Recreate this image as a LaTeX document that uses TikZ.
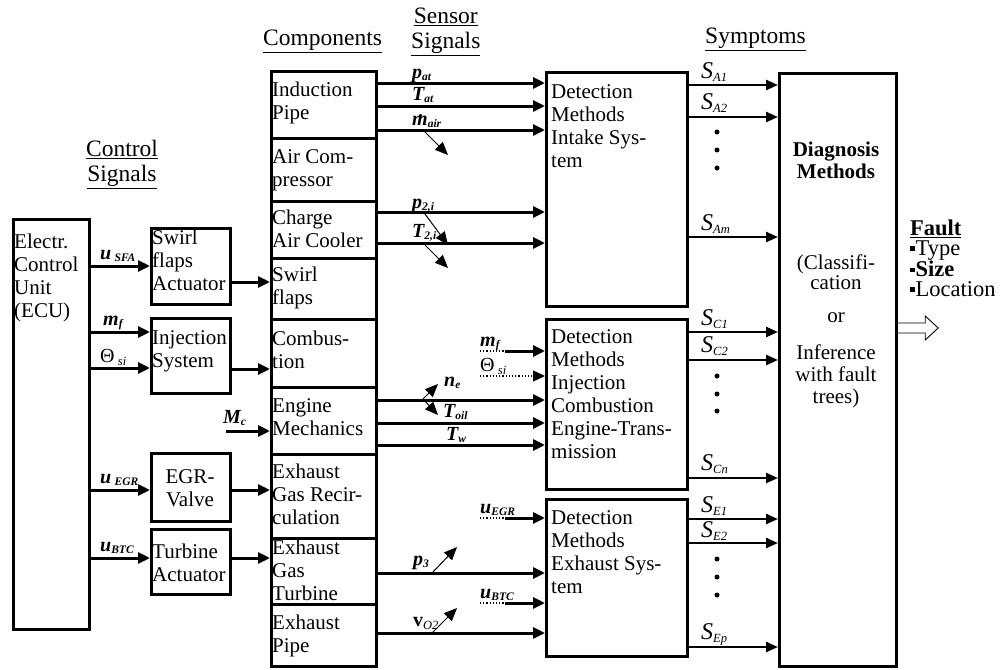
\documentclass[tikz,border=0pt]{standalone}
\usepackage{fontspec}
\setmainfont{Liberation Serif}
\usetikzlibrary{arrows.meta,calc}
\newcommand\bi[1]{{\bfseries\itshape #1}}
\newcommand\sbs[1]{\raisebox{-2pt}{\fontsize{11.5}{11.5}\selectfont\bfseries\itshape #1}}
\newcommand\sbn[1]{\raisebox{-3pt}{\fontsize{12.5}{12.5}\selectfont\itshape #1}}
\newcommand\blt{\raisebox{4.5pt}{\rule{4.5pt}{4.5pt}}\hspace{1pt}}
\newcommand\mdot{\rlap{\raisebox{8pt}{\hspace{6pt}\textbf{.}}}\bi{m}}
\begin{document}
\begin{tikzpicture}[x=1pt,y=-1pt,
  box/.style={draw,line width=3.2pt,inner sep=0pt,anchor=north west},
  txt/.style={font=\fontsize{21}{23}\selectfont,align=left,inner sep=0pt,anchor=north west},
  hdr/.style={font=\fontsize{23.5}{25}\selectfont,inner sep=0pt,align=center},
  lab/.style={font=\fontsize{20}{20}\selectfont,inner sep=0pt,anchor=base west},
  slab/.style={font=\fontsize{24}{24}\selectfont\itshape,inner sep=0pt,anchor=base west},
  arr/.style={line width=3pt,-{Triangle[length=12pt,width=11pt]}},
  sarr/.style={line width=2.4pt,-{Triangle[length=12pt,width=10pt]}},
  darr/.style={line width=1pt,-{Triangle[length=13pt,width=11pt]}},
  dots/.style={line width=1.2pt,dotted},
  pt/.style={fill,circle,inner sep=0pt,minimum size=5pt}
]
\useasboundingbox (0,0) rectangle (1003,669);

% headers
\node[hdr,anchor=north] (hcs) at (122,140) {\underline{Control}\\\underline{Signals}};
\node[hdr,anchor=north west] (hco) at (263,30) {\underline{Components}};
\node[hdr,anchor=north west] (hss) at (411,8) {\underline{Sensor}\\\underline{Signals}};
\node[hdr,anchor=north west] (hsy) at (705,28) {\underline{Symptoms}};

% ECU and actuators
\node[box,minimum width=76,minimum height=410] (ecu) at (12,218) {};
\node[txt] (tecu) at (14,234) {Electr.\\Control\\Unit\\(ECU)};
\node[box,minimum width=79,minimum height=76] (swa) at (150,227) {};
\node[txt] (tswa) at (152,230) {Swirl\\flaps\\Actuator};
\node[box,minimum width=79,minimum height=75] (inj) at (150,317) {};
\node[txt] (tinj) at (152,330) {Injection\\System};
\node[box,minimum width=79,minimum height=68] (egr) at (150,452) {};
\node[txt,align=center,anchor=north] (tegr) at (190,469) {EGR-\\Valve};
\node[box,minimum width=79,minimum height=65] (tur) at (150,528) {};
\node[txt] (ttur) at (152,544) {Turbine\\Actuator};

% components
\node[box,minimum width=105,minimum height=67] (c1) at (270,70) {};
\node[box,minimum width=105,minimum height=63] (c2) at (270,137) {};
\node[box,minimum width=105,minimum height=57] (c3) at (270,200) {};
\node[box,minimum width=105,minimum height=61] (c4) at (270,257) {};
\node[box,minimum width=105,minimum height=68] (c5) at (270,318) {};
\node[box,minimum width=105,minimum height=67] (c6) at (270,386) {};
\node[box,minimum width=105,minimum height=84] (c7) at (270,453) {};
\node[box,minimum width=105,minimum height=66] (c8) at (270,537) {};
\node[box,minimum width=105,minimum height=62] (c9) at (270,603) {};
\node[txt] (t1) at (272,82) {Induction\\Pipe};
\node[txt] (t2) at (272,149) {Air Com-\\pressor};
\node[txt] (t3) at (272,210) {Charge\\Air Cooler};
\node[txt] (t4) at (272,267) {Swirl\\flaps};
\node[txt] (t5) at (272,331) {Combus-\\tion};
\node[txt] (t6) at (272,398) {Engine\\Mechanics};
\node[txt] (t7) at (272,464) {Exhaust\\Gas Recir-\\culation};
\node[txt] (t8) at (272,540) {Exhaust\\Gas\\Turbine};
\node[txt] (t9) at (272,615) {Exhaust\\Pipe};

% detection boxes
\node[box,minimum width=141,minimum height=234] (di) at (545,71) {};
\node[txt] (tdi) at (551,84) {Detection\\Methods\\Intake Sys-\\tem};
\node[box,minimum width=141,minimum height=170] (dj) at (545,318) {};
\node[txt] (tdj) at (551,329) {Detection\\Methods\\Injection\\Combustion\\Engine-Trans-\\mission};
\node[box,minimum width=141,minimum height=157] (de) at (545,498) {};
\node[txt] (tde) at (551,510) {Detection\\Methods\\Exhaust Sys-\\tem};

% diagnosis
\node[box,minimum width=117,minimum height=593] (dg) at (778,72) {};
\node[txt,align=center,anchor=north,font=\fontsize{21}{22}\selectfont\bfseries] (tdg1) at (836,142) {Diagnosis\\Methods};
\node[txt,align=center,anchor=north,font=\fontsize{21}{20}\selectfont] (tdg2) at (836,255) {(Classifi-\\cation};
\node[txt,align=center,anchor=north] (tdg3) at (836,312) {or};
\node[txt,align=center,anchor=north,font=\fontsize{21}{22}\selectfont] (tdg4) at (836,345) {Inference\\with fault\\trees)};

% fault
\node[txt,font=\fontsize{22.5}{19.5}\selectfont] (flt) at (910,220) {\textbf{\underline{Fault}}\\\blt Type\\\blt\textbf{Size}\\\blt Location};
\coordinate (fa) at (dg.east |- 0,328);
\draw[line width=0.9pt,fill=white] ($(fa)+(0,-5)$) -- ++(27,0) -- ++(0,-7) -- ++(13,12) -- ++(-13,12) -- ++(0,-7) -- ($(fa)+(0,5)$);

% ECU outputs
\draw[arr] (ecu.east |- 0,266) -- (swa.west |- 0,266);
\draw[arr] (ecu.east |- 0,332) -- (inj.west |- 0,332);
\draw[arr] (ecu.east |- 0,368) -- (inj.west |- 0,368);
\draw[arr] (ecu.east |- 0,490) -- (egr.west |- 0,490);
\draw[arr] (ecu.east |- 0,558) -- (tur.west |- 0,558);
\node[lab] (lu1) at (100,259) {\bi{u}\,\sbs{SFA}};
\node[lab] (lm1) at (103,325) {\bi{m}\sbs{f}};
\node[lab] (lt1) at (100,362) {Θ\,\sbn{si}};
\node[lab] (lu2) at (100,483) {\bi{u}\,\sbs{EGR}};
\node[lab] (lu3) at (100,551) {\bi{u}\sbs{BTC}};

% actuators to components
\draw[arr] (swa.east |- 0,282) -- (c4.west |- 0,282);
\draw[arr] (inj.east |- 0,369) -- (c5.west |- 0,369);
\coordinate (mc) at (226,431);
\draw[arr] (mc) -- (c6.west |- mc);
\node[lab] (lmc) at (223,423) {\bi{M}\sbs{c}};
\draw[arr] (egr.east |- 0,490) -- (c7.west |- 0,490);
\draw[arr] (tur.east |- 0,558) -- (c8.west |- 0,558);

% sensor signals
\draw[arr] (c1.east |- 0,83) -- (di.west |- 0,83);
\draw[arr] (c1.east |- 0,106) -- (di.west |- 0,106);
\draw[arr] (c1.east |- 0,130) -- (di.west |- 0,130);
\draw[arr] (c3.east |- 0,212) -- (di.west |- 0,212);
\draw[arr] (c3.east |- 0,243) -- (di.west |- 0,243);
\node[lab] (lpat) at (412,78) {\bi{p}\sbs{at}};
\node[lab] (ltat) at (412,100) {\bi{T}\sbs{at}};
\node[lab] (lmair) at (412,125) {\mdot\sbs{air}};
\node[lab] (lp2) at (412,208) {\bi{p}\sbs{2,i}};
\node[lab] (lt2) at (412,237) {\bi{T}\sbs{2,i}};
\coordinate (d1a) at (423,130); \coordinate (d1b) at (448,155);
\draw[darr] (d1a) -- (d1b);
\coordinate (d2a) at (425,214); \coordinate (d2b) at (448,245);
\draw[darr] (d2a) -- (d2b);
\coordinate (d3a) at (425,245); \coordinate (d3b) at (448,268);
\draw[darr] (d3a) -- (d3b);

% injection inputs
\draw[dots] (480,351) coordinate (mfa) -- (505,351) coordinate (mfb);
\draw[arr] (mfb) -- (dj.west |- mfb);
\draw[dots,-{Triangle[length=12pt,width=11pt]}] (480,376) coordinate (tha) -- (dj.west |- tha);
\node[lab] (lm2) at (480,346) {\bi{m}\sbs{f}};
\node[lab] (lt2i) at (480,371) {Θ\,\sbn{si}};
\draw[arr] (c6.east |- 0,400) -- (dj.west |- 0,400);
\draw[arr] (c6.east |- 0,423) -- (dj.west |- 0,423);
\draw[arr] (c6.east |- 0,445) -- (dj.west |- 0,445);
\coordinate (nea) at (423,399);
\draw[darr] (nea) -- (438,384);
\draw[darr] (nea) -- (438,415);
\node[lab] (lne) at (444,386) {\bi{n}\sbs{e}};
\node[lab] (ltoil) at (443,417) {\bi{T}\sbs{oil}};
\node[lab] (ltw) at (446,440) {\bi{T}\sbs{w}};

% exhaust inputs
\draw[dots] (480,518) coordinate (uea) -- (505,518) coordinate (ueb);
\draw[arr] (ueb) -- (de.west |- ueb);
\node[lab] (lu4) at (480,513) {\bi{u}\sbs{EGR}};
\draw[arr] (c8.east |- 0,573) -- (de.west |- 0,573);
\coordinate (p3a) at (432,573); \coordinate (p3b) at (457,547);
\draw[darr] (p3a) -- (p3b);
\node[lab] (lp3) at (413,565) {\bi{p}\sbs{3}};
\draw[dots] (480,603) coordinate (uba) -- (505,603) coordinate (ubb);
\draw[arr] (ubb) -- (de.west |- ubb);
\node[lab] (lu5) at (480,598) {\bi{u}\sbs{BTC}};
\draw[arr] (c9.east |- 0,633) -- (de.west |- 0,633);
\coordinate (voa) at (432,633); \coordinate (vob) at (457,608);
\draw[darr] (voa) -- (vob);
\node[lab] (lvo) at (413,626) {\textbf{v}\sbn{O2}};

% symptoms
\draw[sarr] (di.east |- 0,85) -- (dg.west |- 0,85);
\draw[sarr] (di.east |- 0,117) -- (dg.west |- 0,117);
\draw[sarr] (di.east |- 0,237) -- (dg.west |- 0,237);
\node[slab] (sa1) at (701,78) {S\sbn{A1}};
\node[slab] (sa2) at (701,109) {S\sbn{A2}};
\node[slab] (sam) at (701,230) {S\sbn{Am}};
\node[pt] (pa1) at (717,132) {};
\node[pt] (pa2) at (717,150) {};
\node[pt] (pa3) at (717,168) {};
\draw[sarr] (dj.east |- 0,332) -- (dg.west |- 0,332);
\draw[sarr] (dj.east |- 0,360) -- (dg.west |- 0,360);
\draw[sarr] (dj.east |- 0,478) -- (dg.west |- 0,478);
\node[slab] (sc1) at (701,325) {S\sbn{C1}};
\node[slab] (sc2) at (701,352) {S\sbn{C2}};
\node[slab] (scn) at (701,470) {S\sbn{Cn}};
\node[pt] (pc1) at (717,376) {};
\node[pt] (pc2) at (717,394) {};
\node[pt] (pc3) at (717,411) {};
\draw[sarr] (de.east |- 0,519) -- (dg.west |- 0,519);
\draw[sarr] (de.east |- 0,543) -- (dg.west |- 0,543);
\draw[sarr] (de.east |- 0,647) -- (dg.west |- 0,647);
\node[slab] (se1) at (701,512) {S\sbn{E1}};
\node[slab] (se2) at (701,537) {S\sbn{E2}};
\node[slab] (sep) at (701,639) {S\sbn{Ep}};
\node[pt] (pe1) at (717,559) {};
\node[pt] (pe2) at (717,577) {};
\node[pt] (pe3) at (717,595) {};
\end{tikzpicture}
\end{document}
